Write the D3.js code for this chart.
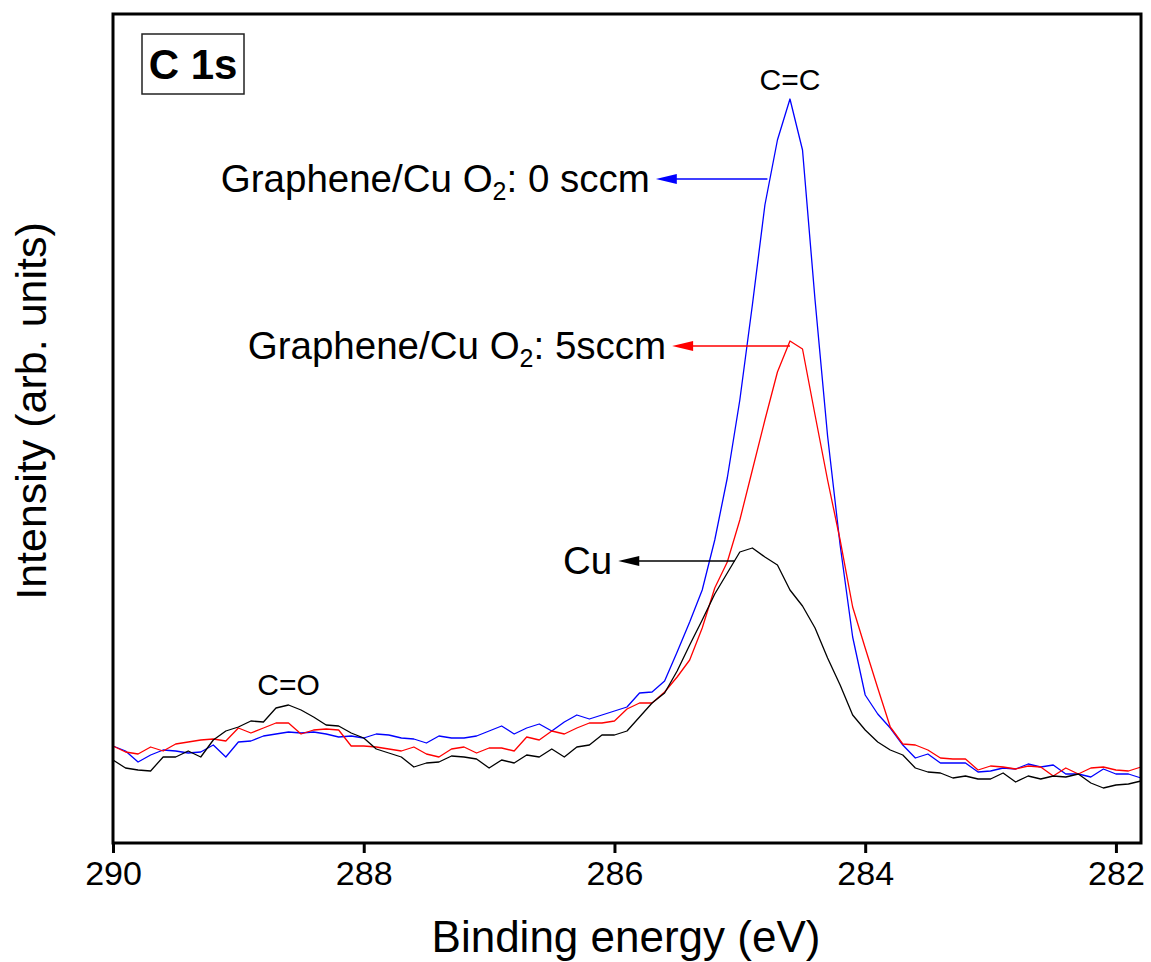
<!DOCTYPE html>
<html>
<head>
<meta charset="utf-8">
<script src="https://cdn.jsdelivr.net/npm/d3@7/dist/d3.min.js"></script>
<style>
  html, body { margin: 0; padding: 0; background: #fff; }
  svg { display: block; font-family: "Liberation Sans", Arial, sans-serif; }
</style>
</head>
<body>
<svg id="chart" width="1151" height="962"></svg>
<script>
// Binding energy grid (eV), 0.1 eV steps from 290.0 down to 281.8
const energy = d3.range(83).map(i => +(290 - 0.1 * i).toFixed(1));

// Intensity (arb. units)
const cuOnly = [83, 75, 73, 72, 86, 86, 92, 86, 103, 112, 116, 122, 121, 135, 138, 133, 126, 118, 117, 110,
  105, 94, 90, 86, 76, 80, 81, 87, 86, 84, 75, 83, 80, 88, 86, 94, 86, 96, 98, 108,
  108, 112, 126, 140, 150, 172, 198, 223, 249, 270, 291, 295, 286, 278, 253, 237, 215, 185, 158, 128,
  113, 101, 93, 88, 75, 71, 70, 65, 67, 64, 64, 70, 61, 67, 64, 67, 66, 69, 60, 55,
  58, 59, 62];

const o2Five = [97, 91, 89, 96, 92, 99, 101, 103, 104, 102, 115, 110, 115, 120, 120, 109, 113, 114, 113, 97,
  97, 96, 94, 92, 96, 89, 86, 94, 96, 90, 95, 95, 92, 106, 103, 112, 109, 115, 120, 120,
  122, 134, 140, 140, 151, 166, 183, 215, 255, 281, 323, 373, 423, 471, 502, 494, 428, 363, 303, 236,
  195, 155, 116, 99, 98, 93, 85, 84, 84, 73, 77, 76, 74, 77, 76, 67, 75, 69, 75, 76,
  73, 72, 76];

const o2Zero = [97, 92, 81, 88, 93, 92, 90, 91, 98, 86, 101, 102, 107, 109, 111, 110, 111, 109, 106, 107,
  105, 109, 108, 105, 104, 100, 107, 105, 105, 107, 112, 117, 109, 115, 119, 112, 121, 128, 124, 128,
  132, 136, 150, 151, 162, 191, 221, 253, 303, 365, 443, 538, 638, 703, 744, 693, 543, 407, 298, 206,
  148, 129, 115, 98, 85, 89, 80, 80, 80, 71, 72, 75, 74, 79, 76, 78, 69, 69, 66, 74,
  69, 69, 65];

const xTicks = [290, 288, 286, 284, 282];

// Arrow annotations: label, colour, intensity level, arrow start (on curve) and tip energies
const notes = [
  { label: "Graphene/Cu O", sub: "2", tail: ": 0 sccm", color: "#0000ff", level: 664, from: 284.78, to: 285.67 },
  { label: "Graphene/Cu O", sub: "2", tail: ": 5sccm", color: "#ff0000", level: 497, from: 284.60, to: 285.54 },
  { label: "Cu", sub: "", tail: "", color: "#000000", level: 282, from: 285.04, to: 285.97 }
];

const svg = d3.select("#chart");
const margin = { top: 14, right: 10, bottom: 119, left: 113 };
const width = 1151 - margin.left - margin.right;
const height = 962 - margin.top - margin.bottom;

const g = svg.append("g")
  .attr("transform", `translate(${margin.left},${margin.top})`);

const x = d3.scaleLinear()
  .domain([290, 281.8])
  .range([0, width]);

const y = d3.scaleLinear()
  .domain([0, height])
  .range([height, 0]);

// X axis with downward ticks
const xAxis = g.append("g")
  .attr("transform", `translate(0,${height})`)
  .call(d3.axisBottom(x).tickValues(xTicks).tickSize(10).tickPadding(8).tickFormat(d3.format("d")));
xAxis.select(".domain").remove();
xAxis.selectAll(".tick line").attr("stroke", "#000").attr("stroke-width", 3);
xAxis.selectAll(".tick text")
  .attr("fill", "#000")
  .style("font-size", "34px")
  .style("font-family", "'Liberation Sans', Arial, sans-serif");

// Spectra
const line = d3.line()
  .x((d, i) => x(energy[i]))
  .y(d => y(d));

[[o2Zero, "#0000ff"], [o2Five, "#ff0000"], [cuOnly, "#000000"]].forEach(([vals, col]) => {
  g.append("path")
    .datum(vals)
    .attr("fill", "none")
    .attr("stroke", col)
    .attr("stroke-width", 1.3)
    .attr("stroke-linejoin", "round")
    .attr("d", line);
});

// Frame
g.append("rect")
  .attr("x", 0)
  .attr("y", 0)
  .attr("width", width)
  .attr("height", height)
  .attr("fill", "none")
  .attr("stroke", "#000")
  .attr("stroke-width", 3);

// Arrows with labels
notes.forEach(n => {
  const y0 = y(n.level);
  const xs = x(n.from);
  const xt = x(n.to);
  g.append("line")
    .attr("x1", xs).attr("x2", xt + 20)
    .attr("y1", y0).attr("y2", y0)
    .attr("stroke", n.color)
    .attr("stroke-width", 1.5);
  g.append("path")
    .attr("d", `M${xt},${y0} L${xt + 21},${y0 - 5} L${xt + 21},${y0 + 5} Z`)
    .attr("fill", n.color);

  const t = g.append("text")
    .attr("x", xt - 6)
    .attr("y", y0 + 13)
    .attr("text-anchor", "end")
    .style("font-size", "38.5px")
    .attr("fill", "#000");
  t.append("tspan").text(n.label);
  if (n.sub) {
    t.append("tspan").attr("dy", 8).style("font-size", "25px").text(n.sub);
    t.append("tspan").attr("dy", -8).text(n.tail);
  }
});

// Peak labels
g.append("text")
  .attr("x", x(284.6))
  .attr("y", y(753))
  .attr("text-anchor", "middle")
  .style("font-size", "30px")
  .text("C=C");

g.append("text")
  .attr("x", x(288.6))
  .attr("y", y(148))
  .attr("text-anchor", "middle")
  .style("font-size", "30px")
  .text("C=O");

// Panel tag
g.append("rect")
  .attr("x", 29)
  .attr("y", 20)
  .attr("width", 102)
  .attr("height", 60)
  .attr("fill", "#fff")
  .attr("stroke", "#222")
  .attr("stroke-width", 1.5);

g.append("text")
  .attr("x", 80)
  .attr("y", 65)
  .attr("text-anchor", "middle")
  .style("font-size", "42px")
  .style("font-weight", "bold")
  .text("C 1s");

// Axis labels
svg.append("text")
  .attr("x", margin.left + width / 2 - 1)
  .attr("y", 952)
  .attr("text-anchor", "middle")
  .style("font-size", "44px")
  .text("Binding energy (eV)");

svg.append("text")
  .attr("transform", "rotate(-90)")
  .attr("x", -411)
  .attr("y", 46)
  .attr("text-anchor", "middle")
  .style("font-size", "43px")
  .text("Intensity (arb. units)");
</script>
</body>
</html>
